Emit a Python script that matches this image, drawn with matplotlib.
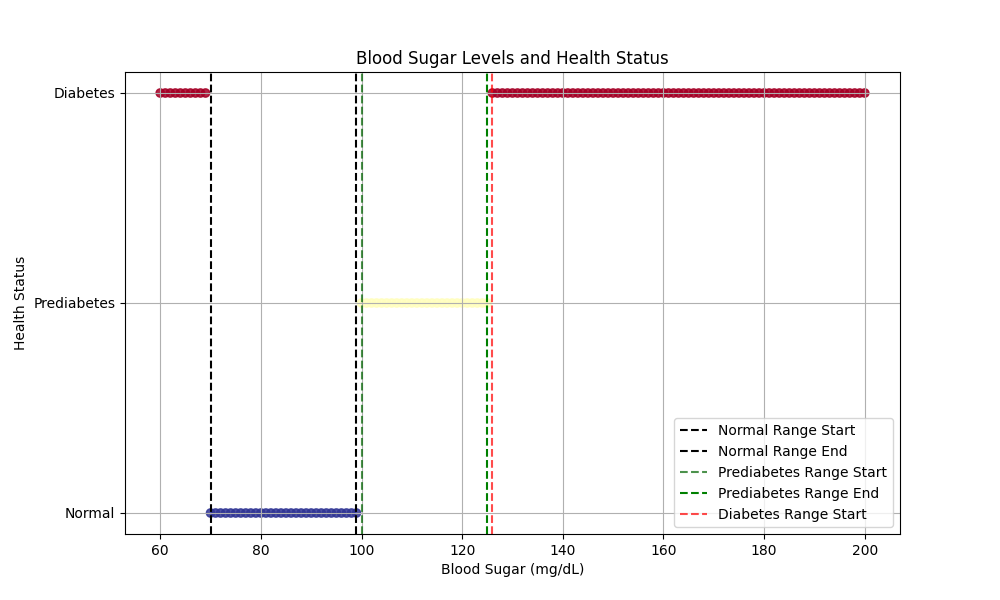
import numpy as np
import matplotlib
matplotlib.use("Agg")
import matplotlib.pyplot as plt

# blood sugar readings, one per mg/dL
sugar = list(range(60, 201))
status_names = ["Normal", "Prediabetes", "Diabetes"]


def classify(v):
    if 70 <= v <= 99:
        return 0
    if 100 <= v <= 125:
        return 1
    return 2


status = [classify(v) for v in sugar]

plt.figure(figsize=(10, 6))
plt.scatter(sugar, status, c=status, cmap="RdYlBu_r", alpha=0.85)
plt.axvline(x=70, color="black", linestyle="--", label="Normal Range Start")
plt.axvline(x=99, color="black", linestyle="--", label="Normal Range End")
plt.axvline(x=100, color="darkgreen", linestyle="--", alpha=0.7, label="Prediabetes Range Start")
plt.axvline(x=125, color="green", linestyle="--", label="Prediabetes Range End")
plt.axvline(x=126, color="red", linestyle="--", alpha=0.7, label="Diabetes Range Start")
plt.yticks([0, 1, 2], status_names)
plt.title("Blood Sugar Levels and Health Status")
plt.xlabel("Blood Sugar (mg/dL)")
plt.ylabel("Health Status")
plt.legend(loc="lower right")
plt.grid(True)
plt.savefig("out.png", dpi=100)
